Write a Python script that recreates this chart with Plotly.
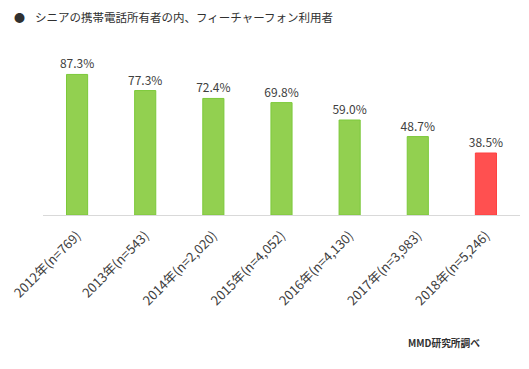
import plotly.graph_objects as go

categories = ["2012年(n=769)", "2013年(n=543)", "2014年(n=2,020)", "2015年(n=4,052)",
              "2016年(n=4,130)", "2017年(n=3,983)", "2018年(n=5,246)"]
values = [87.3, 77.3, 72.4, 69.8, 59.0, 48.7, 38.5]
labels = [f"{v:.1f}%" for v in values]
bar_colors = ["#92D050"] * 6 + ["#FF5050"]
edge_colors = ["#7CC93A"] * 6 + ["#FF4040"]

font = "Noto Sans CJK JP"

# page body has an 8px default margin: figure drawn offset by 8px
OFF = 8
W, H = 529 - OFF, 369 - OFF
L, R, T = 43 - OFF, 9, 53.5 - OFF
B = H - (215 - OFF)

fig = go.Figure(go.Bar(
    x=categories, y=values, text=labels, textposition="outside",
    constraintext="none",
    textfont=dict(size=12, color="#404040", family=font),
    marker=dict(color=bar_colors, line=dict(color=edge_colors, width=1)),
    cliponaxis=False,
))

pw = W - L - R
ph = H - T - B

def px(x, y):
    x -= OFF
    y -= OFF
    return (x - L) / pw, (H - B - y) / ph

anns = []
for txt, x, y, size, anchor in [
    ("●", 12, 16, 11, "left"),
    ("シニアの携帯電話所有者の内、フィーチャーフォン利用者", 33, 16, 11.5, "left"),
    ("<b>MMD研究所調べ</b>", 482, 343, 9.7, "right"),
]:
    xp, yp = px(x, y)
    anns.append(dict(text=txt, x=xp, y=yp, xref="paper", yref="paper", showarrow=False,
                     font=dict(size=size, color="#303030", family=font),
                     xanchor=anchor, yanchor="middle"))

fig.update_layout(
    width=W, height=H,
    margin=dict(l=L, r=R, t=T, b=B, autoexpand=False),
    paper_bgcolor="white", plot_bgcolor="white",
    bargap=0.69,
    showlegend=False,
    font=dict(family=font, color="#404040"),
    xaxis=dict(tickangle=-45, tickfont=dict(size=13, color="#404040", family=font),
               ticklabelstandoff=7,
               showline=True, linecolor="#D9D9D9", linewidth=1, ticks="",
               showgrid=False, automargin=False),
    yaxis=dict(range=[0, 100], visible=False, showgrid=False, automargin=False),
    annotations=anns,
)

fig.write_html("out.html")
